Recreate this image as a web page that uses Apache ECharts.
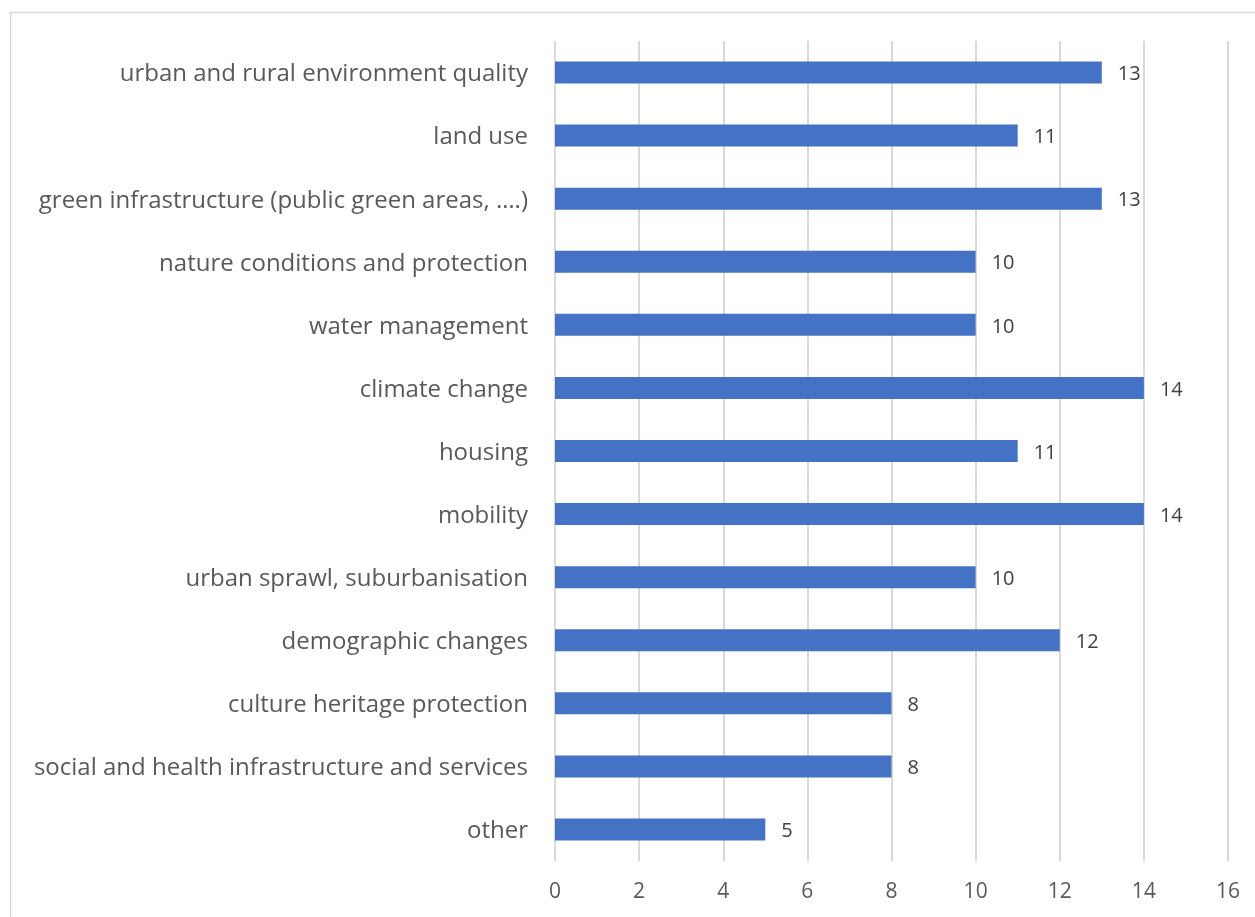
<!DOCTYPE html>
<html>
<head>
<meta charset="utf-8">
<script src="https://cdn.jsdelivr.net/npm/echarts@6/dist/echarts.min.js"></script>
<style>
  html, body { margin: 0; padding: 0; background: #ffffff; }
  #chart { width: 1255px; height: 917px; }
</style>
</head>
<body>
<div id="chart"></div>
<script>
// Topics, listed top to bottom
const categories = [
  'urban and rural environment quality',
  'land use',
  'green infrastructure (public green areas, ….)',
  'nature conditions and protection',
  'water management',
  'climate change',
  'housing',
  'mobility',
  'urban sprawl, suburbanisation',
  'demographic changes',
  'culture heritage protection',
  'social and health infrastructure and services',
  'other'
];
const values = [13, 11, 13, 10, 10, 14, 11, 14, 10, 12, 8, 8, 5];
const xTicks = [0, 2, 4, 6, 8, 10, 12, 14, 16];

const FONT = '"Open Sans", "Noto Sans", sans-serif';

const chart = echarts.init(document.getElementById('chart'), null, { renderer: 'canvas' });
chart.setOption({
  animation: false,
  backgroundColor: '#ffffff',
  graphic: [{
    type: 'rect',
    shape: { x: 10.5, y: 12.5, width: 1400, height: 1000 },
    style: { fill: 'none', stroke: '#d9d9d9', lineWidth: 1.5 },
    silent: true
  }],
  grid: { left: 555, right: 27, top: 41, bottom: 56, containLabel: false },
  xAxis: {
    type: 'value',
    min: xTicks[0],
    max: xTicks[xTicks.length - 1],
    interval: 2,
    axisLine: { show: false },
    axisTick: { show: false },
    splitLine: { show: true, lineStyle: { color: '#d9d9d9', width: 2 } },
    axisLabel: {
      color: '#595959', fontSize: 21, fontFamily: FONT, margin: 21,
      formatter: v => xTicks.includes(v) ? String(v) : ''
    }
  },
  yAxis: {
    type: 'category',
    inverse: true,
    data: categories,
    axisLine: { show: false },
    axisTick: { show: false },
    axisLabel: {
      margin: 27,
      formatter: v => '{c|' + v + '}',
      rich: {
        c: {
          color: '#595959', fontSize: 24, fontFamily: FONT,
          padding: [4, 0, 0, 0]
        }
      }
    }
  },
  series: [{
    type: 'bar',
    data: values,
    barWidth: 22,
    itemStyle: { color: '#4472c4' },
    label: {
      show: true,
      position: 'right',
      distance: 16,
      offset: [0, 2],
      color: '#404040',
      fontSize: 20,
      fontFamily: FONT
    }
  }]
});
</script>
</body>
</html>
